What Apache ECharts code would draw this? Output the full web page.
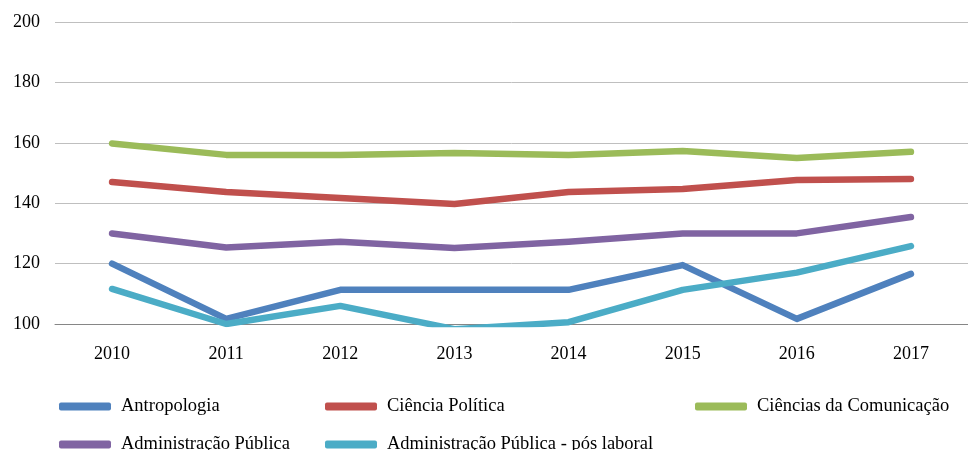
<!DOCTYPE html>
<html>
<head>
<meta charset="utf-8">
<script src="https://cdn.jsdelivr.net/npm/echarts@6/dist/echarts.min.js"></script>
<style>
  html, body { margin: 0; padding: 0; background: #fff; }
  #chart { width: 968px; height: 450px; }
</style>
</head>
<body>
<div id="chart"></div>
<script>
// anos
const years = ["2010", "2011", "2012", "2013", "2014", "2015", "2016", "2017"]

// valores por curso
const antropologia = [120, 101.7, 111.3, 111.3, 111.3, 119.5, 101.7, 116.6]
const cienciaPolitica = [147, 143.7, 141.7, 139.7, 143.7, 144.7, 147.7, 148]
const cienciasComunicacao = [159.8, 156, 156, 156.6, 156, 157.3, 155, 157]
const adminPublica = [130, 125.3, 127.2, 125.2, 127.2, 130, 130, 135.4]
const adminPosLaboral = [111.6, 100, 106, 98.3, 100.6, 111.3, 117, 125.8]

const names = [
  "Antropologia",
  "Ciência Política",
  "Ciências da Comunicação",
  "Administração Pública",
  "Administração Pública - pós laboral"
]
const colors = ["#4F81BD", "#C0504D", "#9BBB59", "#8064A2", "#4BACC6"]
const values = [antropologia, cienciaPolitica, cienciasComunicacao, adminPublica, adminPosLaboral]

const font = "Liberation Serif"

// uma legenda por item, para imitar a grelha do Excel
const legendPos = [[59, 397], [325, 397], [695, 397], [59, 435], [325, 435]]
const legends = names.map((n, i) => ({
  left: legendPos[i][0],
  top: legendPos[i][1],
  padding: 0,
  data: [n],
  itemWidth: 52,
  itemHeight: 8,
  icon: "roundRect",
  textStyle: { fontFamily: font, fontSize: 18.5, color: "#000", padding: [0, 0, 0, 5] }
}))

const chart = echarts.init(document.getElementById("chart"))
chart.setOption({
  animation: false,
  grid: { left: 55, right: -8, top: 22, height: 302 },
  legend: legends,
  xAxis: {
    type: "category",
    data: years,
    boundaryGap: true,
    axisLine: { lineStyle: { color: "#868686", width: 1 } },
    axisTick: { show: false },
    axisLabel: { color: "#000", fontFamily: font, fontSize: 18, margin: 21 }
  },
  yAxis: {
    type: "value",
    min: 100,
    max: 200,
    interval: 20,
    axisLine: { show: false },
    axisTick: { show: false },
    axisLabel: { color: "#000", fontFamily: font, fontSize: 18, margin: 15 },
    splitLine: { lineStyle: { color: "#bfbfbf", width: 1 } }
  },
  series: values.map((v, i) => ({
    name: names[i],
    type: "line",
    data: v,
    symbol: "none",
    color: colors[i],
    lineStyle: { width: 6.5, cap: "round", join: "round" }
  }))
})
</script>
</body>
</html>
